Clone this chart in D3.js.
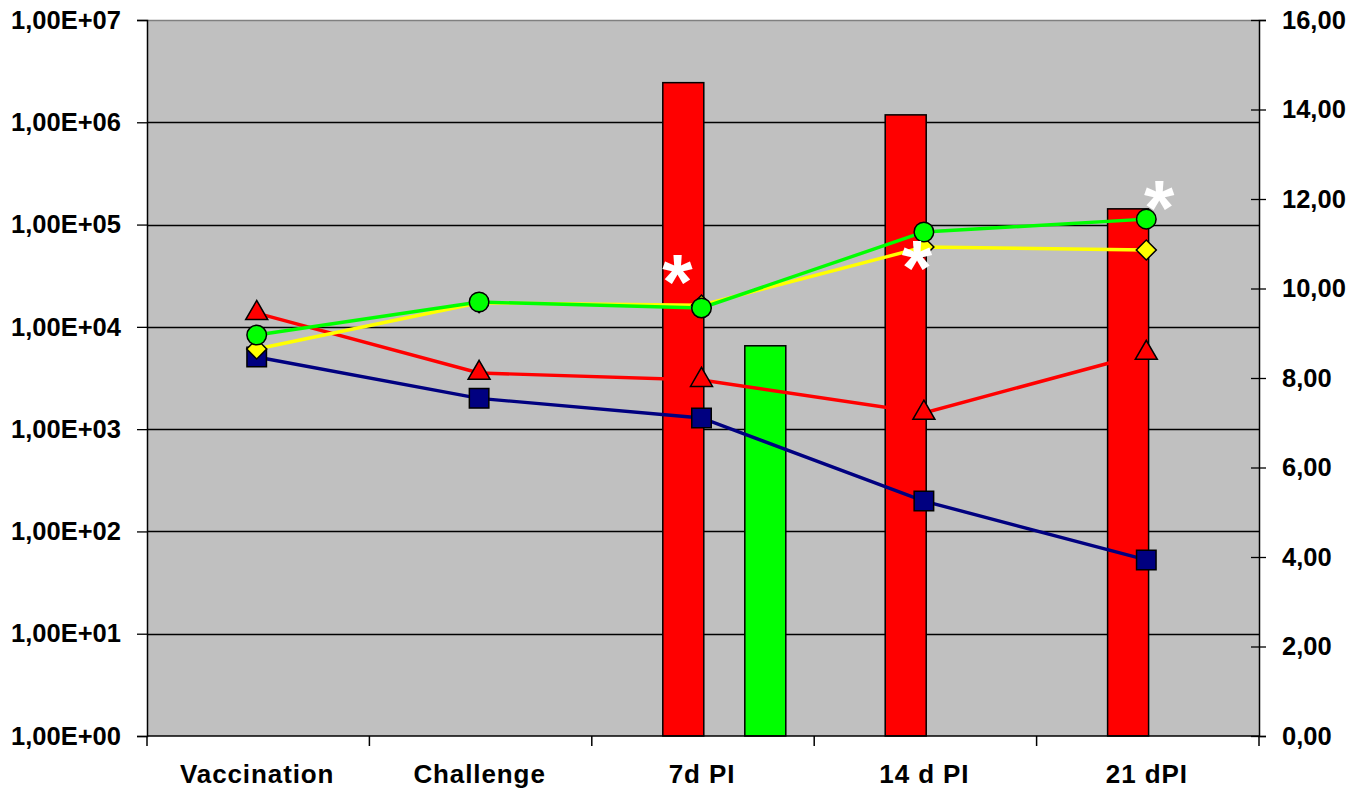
<!DOCTYPE html>
<html>
<head>
<meta charset="utf-8">
<script src="https://cdn.jsdelivr.net/npm/d3@7"></script>
<style>
  html, body { margin: 0; padding: 0; background: #fff; }
  svg { display: block; font-family: "Liberation Sans", Arial, sans-serif; font-weight: bold; }
</style>
</head>
<body>
<svg id="chart" width="1351" height="790"></svg>
<script>
// Sampling points
const categories = ["Vaccination", "Challenge", "7d PI", "14 d PI", "21 dPI"];

// Bar series (right axis)
const barRed   = [null, null, 14.6, 13.88, 11.78];
const barGreen = [null, null, 8.72, null, null];

// Line series (left log axis)
const lineBlue   = [5070, 2000, 1285, 198, 52.6];
const lineRed    = [13600, 3540, 3020, 1440, 5550];
const lineYellow = [6070, 17200, 16300, 60300, 56400];
const lineGreen  = [8320, 17500, 15300, 84600, 113000];

// Significance marks (category indices)
const starIdx = [2, 3, 4];

const leftTicks  = [1e0, 1e1, 1e2, 1e3, 1e4, 1e5, 1e6, 1e7];
const rightTicks = [0, 2, 4, 6, 8, 10, 12, 14, 16];

const svg = d3.select("#chart");
const L = 147, R = 1259, T = 20, B = 736;

const x = d3.scaleBand().domain(categories).range([L, R]);
const yLog = d3.scaleLog().domain([1, 1e7]).range([B, T]);
const yLin = d3.scaleLinear().domain([0, 16]).range([B, T]);
const sub = d3.scaleBand().domain(["red", "blank", "green"]).range([71, 71 + 123]);

// Plot background
svg.append("rect").attr("x", L).attr("y", T).attr("width", R - L).attr("height", B - T).attr("fill", "#C0C0C0");

// Gridlines at each decade
svg.append("g").selectAll("line").data(leftTicks.slice(1)).join("line")
  .attr("x1", L).attr("x2", R)
  .attr("y1", d => Math.round(yLog(d)) + 0.5).attr("y2", d => Math.round(yLog(d)) + 0.5)
  .attr("stroke", d => d === 1e7 ? "#808080" : "#000").attr("stroke-width", 1.3);

// Bars
const barG = svg.append("g");
function drawBars(vals, key, color) {
  barG.selectAll(null).data(vals.map((v, i) => ({ v, c: categories[i] })).filter(d => d.v != null)).join("rect")
    .attr("x", d => x(d.c) + sub(key))
    .attr("y", d => yLin(d.v))
    .attr("width", sub.bandwidth())
    .attr("height", d => B - yLin(d.v))
    .attr("fill", color).attr("stroke", "#000").attr("stroke-width", 1.5);
}
drawBars(barRed, "red", "#FF0000");
drawBars(barGreen, "green", "#00FF00");

// Axes
const fmtE = d => "1,00E+" + String(Math.round(Math.log10(d))).padStart(2, "0");
const axL = svg.append("g").attr("transform", `translate(${L},0)`)
  .call(d3.axisLeft(yLog).tickValues(leftTicks).tickFormat(fmtE).tickSize(10).tickPadding(16));
const axR = svg.append("g").attr("transform", `translate(${R},0)`)
  .call(d3.axisRight(yLin).tickValues(rightTicks).tickFormat(d => d3.format(".2f")(d).replace(".", ",")).tickSize(7).tickPadding(16));
axR.selectAll(".tick").append("line").attr("x1", -8).attr("x2", 0).attr("stroke", "#000").attr("stroke-width", 1.3);

const axB = svg.append("g").attr("transform", `translate(0,${B})`);
axB.append("line").attr("x1", L).attr("x2", R).attr("stroke", "#000").attr("stroke-width", 1.5);
const bounds = categories.map(c => x(c)).concat([R]);
axB.selectAll(".bt").data(bounds).join("line").attr("class", "bt")
  .attr("x1", d => d).attr("x2", d => d).attr("y1", 0).attr("y2", 10)
  .attr("stroke", "#000").attr("stroke-width", 1.5);
axB.selectAll("text").data(categories).join("text")
  .attr("x", d => x(d) + x.bandwidth() / 2 - 1).attr("y", 47)
  .attr("text-anchor", "middle").attr("font-size", 26).attr("letter-spacing", 0.9).attr("fill", "#000")
  .text(d => d);

[axL, axR].forEach(a => {
  a.select(".domain").attr("stroke", "#000").attr("stroke-width", 1.5);
  a.selectAll(".tick line").attr("stroke", "#000").attr("stroke-width", 1.3);
  a.selectAll("text").attr("font-size", 25.5).attr("fill", "#000")
    .attr("font-family", "'Liberation Sans', Arial, sans-serif").attr("font-weight", "bold");
});

// Lines with markers
const px = c => x(c) + x.bandwidth() / 2 - 1.5;
const lineGen = d3.line().x(d => px(d.c)).y(d => yLog(d.v));
function drawSeries(vals, color, shape, size, rotate) {
  const data = vals.map((v, i) => ({ v, c: categories[i] }));
  const g = svg.append("g");
  g.append("path").datum(data).attr("d", lineGen).attr("fill", "none")
    .attr("stroke", color).attr("stroke-width", 3.4);
  g.selectAll("path.m").data(data).join("path").attr("class", "m")
    .attr("transform", d => `translate(${px(d.c)},${yLog(d.v)}) rotate(${rotate || 0})`)
    .attr("d", d3.symbol().type(shape).size(size))
    .attr("fill", color).attr("stroke", "#000").attr("stroke-width", 1.5);
}
drawSeries(lineBlue, "#000080", d3.symbolSquare, 380);
drawSeries(lineRed, "#FF0000", d3.symbolTriangle, 210);
drawSeries(lineYellow, "#FFFF00", d3.symbolSquare, 200, 45);
drawSeries(lineGreen, "#00FF00", d3.symbolCircle, 300);

// Significance asterisks
const starPos = [
  { i: 2, dx: -24, v: lineGreen[2], dy: -43 },
  { i: 3, dx: -7,  v: lineGreen[3], dy: 19 },
  { i: 4, dx: 13,  v: lineGreen[4], dy: -28 }
];
svg.append("g").selectAll("text").data(starPos.filter(s => starIdx.includes(s.i))).join("text")
  .attr("x", d => px(categories[d.i]) + d.dx)
  .attr("y", d => yLog(d.v) + d.dy + 44)
  .attr("text-anchor", "middle").attr("font-size", 78).attr("fill", "#fff")
  .text("*");
</script>
</body>
</html>
